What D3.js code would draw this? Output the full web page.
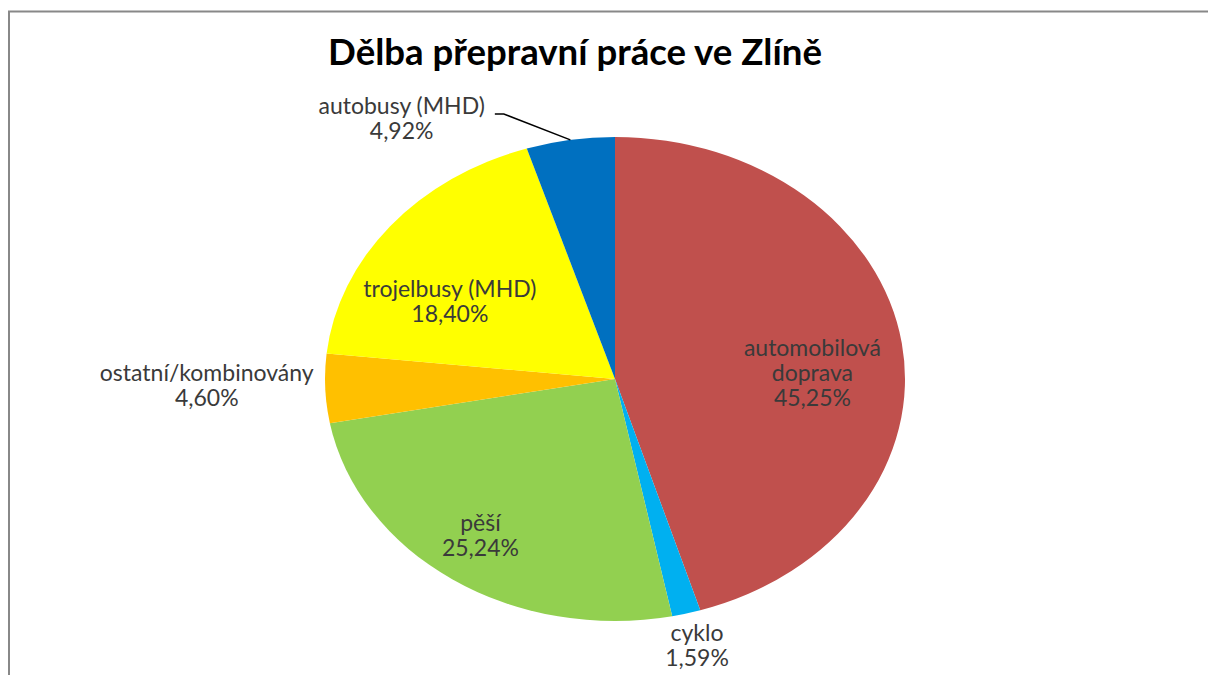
<!DOCTYPE html>
<html>
<head>
<meta charset="utf-8">
<script src="https://cdn.jsdelivr.net/npm/d3@7"></script>
<style>
  html, body { margin: 0; padding: 0; background: #fff; }
  svg { display: block; }
  text { font-family: Lato, "Open Sans", sans-serif; }
</style>
</head>
<body>
<svg id="chart" width="1208" height="675"></svg>
<script>
// data (clockwise from 12 o'clock)
const categories = ["automobilová doprava", "cyklo", "pěší", "ostatní/kombinovány", "trojelbusy (MHD)", "autobusy (MHD)"];
const shares = [45.25, 1.59, 25.24, 4.60, 18.40, 4.92];
const labelLines = [["automobilová", "doprava"], ["cyklo"], ["pěší"], ["ostatní/kombinovány"], ["trojelbusy (MHD)"], ["autobusy (MHD)"]];
const sliceColors = ["#C0504D", "#00B0F0", "#92D050", "#FFC000", "#FFFF00", "#0070C0"];
const title = "Dělba přepravní práce ve Zlíně";

// layout
const cx = 615, cy = 379;
const rx = 290, ry = 242;
const lineH = 25;
// where each label sits: radial factor along mid angle plus a small nudge
const labelLayout = [
  {k: 0.65, dx: 11, dy: 0},
  {k: 1.15, dx: 0, dy: -8},
  {k: 0.65, dx: -29, dy: 22},
  {k: 1.15, dx: -75, dy: -9},
  {k: 0.65, dx: -19, dy: 17},
  {k: 1.15, dx: -162, dy: 10, leader: true}
];

const svg = d3.select("#chart");

// frame (chart area border, cut at right and bottom)
svg.append("path")
  .attr("d", "M9,675 V11.5 H1208")
  .attr("fill", "none")
  .attr("stroke", "#888")
  .attr("stroke-width", 2);

// title, sized to fit the width seen in the picture
const titleText = svg.append("text")
  .attr("x", 575)
  .attr("y", 65)
  .attr("text-anchor", "middle")
  .style("font-weight", "bold")
  .style("font-size", "100px")
  .attr("fill", "#000")
  .text(title);
let tw = titleText.node().getComputedTextLength();
titleText.style("font-size", (100 * 494 / tw) + "px");

const pie = d3.pie().sort(null).value(d => d.value);
const arcs = pie(categories.map((c, i) => ({name: c, value: shares[i], i: i})));

const arc = d3.arc().innerRadius(0).outerRadius(ry);

const pieG = svg.append("g")
  .attr("transform", `translate(${cx},${cy}) scale(${rx / ry},1)`);

pieG.selectAll("path.slice")
  .data(arcs)
  .enter()
  .append("path")
  .attr("class", "slice")
  .attr("d", arc)
  .attr("fill", d => sliceColors[d.data.i]);

// point on the ellipse at angle a (from top, clockwise) with radial factor k
function ellPoint(a, k) {
  return [cx + rx * k * Math.sin(a), cy - ry * k * Math.cos(a)];
}

// label font size: fit the widest label to the width seen in the picture
const probe = svg.append("text").style("font-size", "100px").text("ostatní/kombinovány");
const labelSize = 100 * 214 / probe.node().getComputedTextLength();
probe.remove();

const labels = svg.append("g");
arcs.forEach(d => {
  const lay = labelLayout[d.data.i];
  const mid = (d.startAngle + d.endAngle) / 2;
  const p = ellPoint(mid, lay.k);
  const x = p[0] + lay.dx, y = p[1] + lay.dy;
  const lines = labelLines[d.data.i].concat([d3.format(".2f")(d.data.value).replace(".", ",") + "%"]);
  const t = labels.append("text")
    .attr("text-anchor", "middle")
    .attr("fill", "#3a3a3a")
    .style("font-size", labelSize + "px");
  lines.forEach((s, j) => {
    t.append("tspan").attr("x", x).attr("y", y + j * lineH).text(s);
  });
  if (lay.leader) {
    const first = t.select("tspan").node();
    const w = first.getComputedTextLength();
    const ex = x + w / 2 + 10, ey = y;
    const edge = ellPoint(mid, 1);
    svg.append("polyline")
      .attr("points", [[ex, ey], [ex + 9, ey], edge].map(q => q.join(",")).join(" "))
      .attr("fill", "none")
      .attr("stroke", "#000")
      .attr("stroke-width", 1.5);
  }
});
</script>
</body>
</html>
